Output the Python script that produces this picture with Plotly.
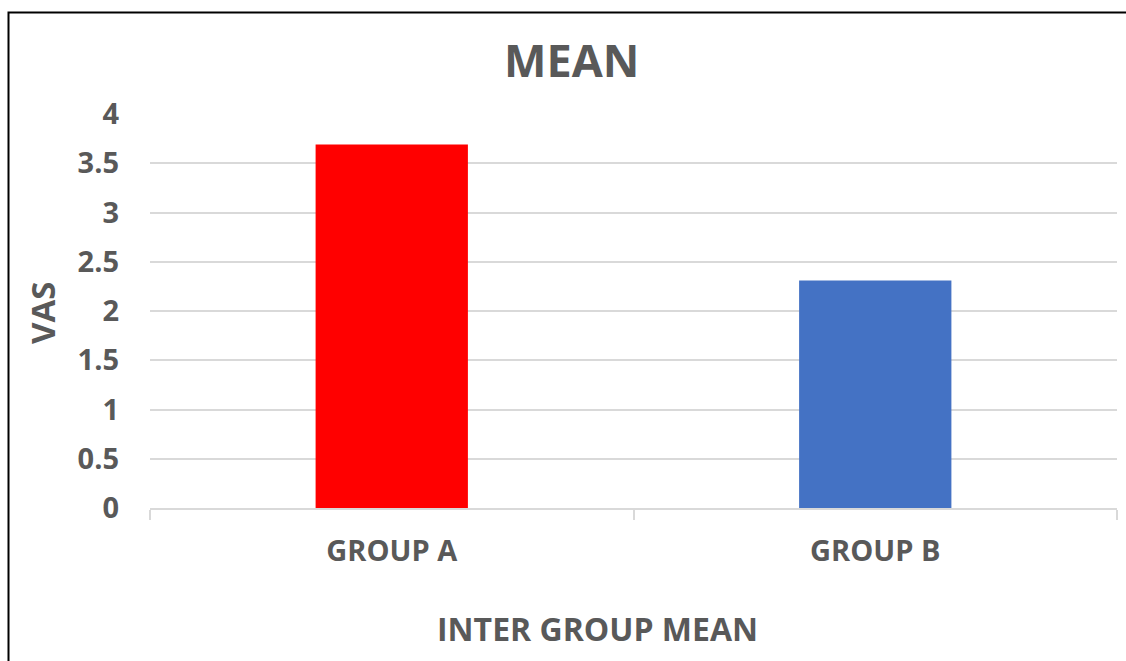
import plotly.graph_objects as go

categories = ["GROUP A", "GROUP B"]
values = [3.69, 2.31]
bar_colors = ["#FF0000", "#4472C4"]
y_ticks = [0, 0.5, 1, 1.5, 2, 2.5, 3, 3.5, 4]
y_tick_labels = ["0", "0.5", "1", "1.5", "2", "2.5", "3", "3.5", "4"]

W, H = 1126, 661
L, R, T, B = 150, 9, 114, 153
pw = W - L - R
ph = H - T - B

font_color = "#595959"
fam = "Open Sans"

fig = go.Figure(go.Bar(
    x=categories, y=values, marker_color=bar_colors,
    marker_line_width=0, width=0.315,
))

def px_to_paper_x(px):
    return (px - L) / pw

def px_to_paper_y(py):
    return (H - B - py) / ph

fig.update_layout(
    width=W, height=H,
    margin=dict(l=L, r=R, t=T, b=B),
    paper_bgcolor="white", plot_bgcolor="white",
    showlegend=False,
    font=dict(family=fam, color=font_color),
    xaxis=dict(
        type="category", tickson="boundaries", ticks="outside",
        ticklen=10, tickcolor="#d9d9d9", tickwidth=1.5,
        showline=True, linecolor="#d9d9d9", linewidth=1.5,
        showgrid=False,
        tickfont=dict(family=fam, size=29, color=font_color, weight="bold"),
        ticklabelstandoff=16,
    ),
    yaxis=dict(
        range=[0, 4], tickvals=y_ticks, ticktext=y_tick_labels,
        showgrid=True, gridcolor="#d9d9d9", gridwidth=1.5,
        zeroline=False, showline=False, ticks="",
        tickfont=dict(family=fam, size=29, color=font_color, weight="bold"),
        ticklabelstandoff=30,
    ),
    shapes=[dict(
        type="rect", xref="paper", yref="paper",
        x0=px_to_paper_x(8.5), x1=px_to_paper_x(1140),
        y0=px_to_paper_y(680), y1=px_to_paper_y(12.5),
        line=dict(color="black", width=2), fillcolor="rgba(0,0,0,0)", layer="below",
    )],
    annotations=[
        dict(text="MEAN", xref="paper", yref="paper",
             x=px_to_paper_x(571), y=px_to_paper_y(60), xanchor="center", yanchor="middle",
             showarrow=False, font=dict(family=fam, size=45, color=font_color, weight="bold")),
        dict(text="INTER GROUP MEAN", xref="paper", yref="paper",
             x=px_to_paper_x(597), y=px_to_paper_y(628), xanchor="center", yanchor="middle",
             showarrow=False, font=dict(family=fam, size=32, color=font_color, weight="bold")),
        dict(text="VAS", xref="paper", yref="paper", textangle=-90,
             x=px_to_paper_x(42), y=px_to_paper_y(313), xanchor="center", yanchor="middle",
             showarrow=False, font=dict(family=fam, size=33, color=font_color, weight="bold")),
    ],
)

fig.write_html("out.html")
